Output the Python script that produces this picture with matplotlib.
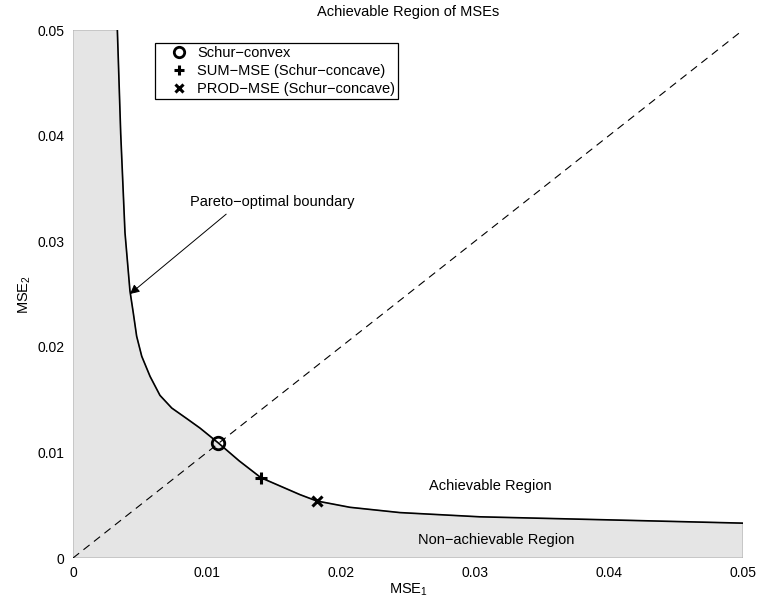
import matplotlib
matplotlib.use("Agg")
import matplotlib.pyplot as plt
from matplotlib.lines import Line2D
from matplotlib.patches import Polygon

plt.rcParams["font.family"] = ["Liberation Sans", "DejaVu Sans"]
plt.rcParams["mathtext.default"] = "regular"

# Pareto-optimal boundary of the MSE region
mse1 = [0.00331, 0.00356, 0.00388, 0.00425, 0.00450, 0.00475, 0.00513, 0.00575,
        0.00649, 0.00737, 0.00849, 0.00948, 0.01084, 0.01240, 0.01403, 0.01694,
        0.01819, 0.02067, 0.02440, 0.03037, 0.04032, 0.05000]
mse2 = [0.0500, 0.0402, 0.0308, 0.0253, 0.0232, 0.0210, 0.0191, 0.0172,
        0.0154, 0.0142, 0.0132, 0.0123, 0.0109, 0.0092, 0.0076, 0.0060,
        0.0054, 0.0048, 0.0043, 0.0039, 0.0036, 0.0033]

# optimal points for the different criteria
schur_convex = (0.01084, 0.01086)
sum_mse = (0.01403, 0.0076)
prod_mse = (0.01819, 0.00543)

ticks = [0, 0.01, 0.02, 0.03, 0.04, 0.05]
tick_labels = ["0", "0.01", "0.02", "0.03", "0.04", "0.05"]

fig = plt.figure(figsize=(7.57, 6.01), dpi=100)
ax = fig.add_axes([73 / 757, 43 / 601, 670 / 757, 528 / 601])

# shaded non-achievable region left of / below the boundary
poly = list(zip(mse1, mse2)) + [(0.05, 0.0), (0.0, 0.0), (0.0, 0.05)]
ax.add_patch(Polygon(poly, closed=True, facecolor="#e5e5e5",
                     edgecolor="#b0b0b0", linewidth=0.8, zorder=1))

ax.plot([0, 0.05], [0, 0.05], color="black", lw=0.8,
        linestyle=(0, (7, 5)), zorder=2)
ax.plot(mse1, mse2, color="black", lw=1.2, zorder=3)

ax.plot(*schur_convex, marker="o", ms=9, mfc="none", mec="black", mew=2, zorder=4)
ax.plot(*sum_mse, marker="+", ms=8, mec="black", mew=2.2, zorder=4)
ax.plot(*prod_mse, marker="x", ms=6.5, mec="black", mew=2.2, zorder=4)

handles = [
    Line2D([], [], ls="none", marker="o", ms=7.5, mfc="none", mec="black", mew=2),
    Line2D([], [], ls="none", marker="+", ms=7.5, mec="black", mew=2.2),
    Line2D([], [], ls="none", marker="x", ms=6, mec="black", mew=2.2),
]
labels = ["Schur\u2212convex", "SUM\u2212MSE (Schur\u2212concave)",
          "PROD\u2212MSE (Schur\u2212concave)"]
leg = ax.legend(handles, labels, loc="upper left",
                bbox_to_anchor=(155 / 757, 1 - 43 / 601),
                bbox_transform=fig.transFigure, fontsize=10.5,
                frameon=True, fancybox=False, edgecolor="black",
                framealpha=1, handlelength=2.9, handletextpad=-0.2,
                labelspacing=0.3, borderpad=0.18, borderaxespad=0)
leg.get_frame().set_linewidth(0.9)

ax.annotate("Pareto\u2212optimal boundary", xy=(0.00425, 0.0250),
            xytext=(0.00873, 0.03374), fontsize=10.5, va="center", ha="left",
            arrowprops=dict(arrowstyle="-|>", color="black", lw=0.7,
                            mutation_scale=14, shrinkA=3, shrinkB=0,
                            relpos=(0.26, 0.0)))
ax.text(0.03112, 0.00682, "Achievable Region", fontsize=10.5,
        ha="center", va="center")
ax.text(0.03157, 0.0017, "Non\u2212achievable Region", fontsize=10.5,
        ha="center", va="center")

ax.set_xlim(0, 0.05)
ax.set_ylim(0, 0.05)
ax.set_xticks(ticks, tick_labels, fontsize=10)
ax.set_yticks(ticks, tick_labels, fontsize=10)
ax.tick_params(length=0, pad=6)
for s in ax.spines.values():
    s.set_visible(False)

ax.set_xlabel("MSE$_1$", fontsize=10.5, labelpad=1)
ax.set_ylabel("MSE$_2$", fontsize=10.5, labelpad=3)
fig.text(408 / 757, 1 - 12 / 601, "Achievable Region of MSEs",
         fontsize=10.5, ha="center", va="center")

fig.savefig("out.png", dpi=100)
